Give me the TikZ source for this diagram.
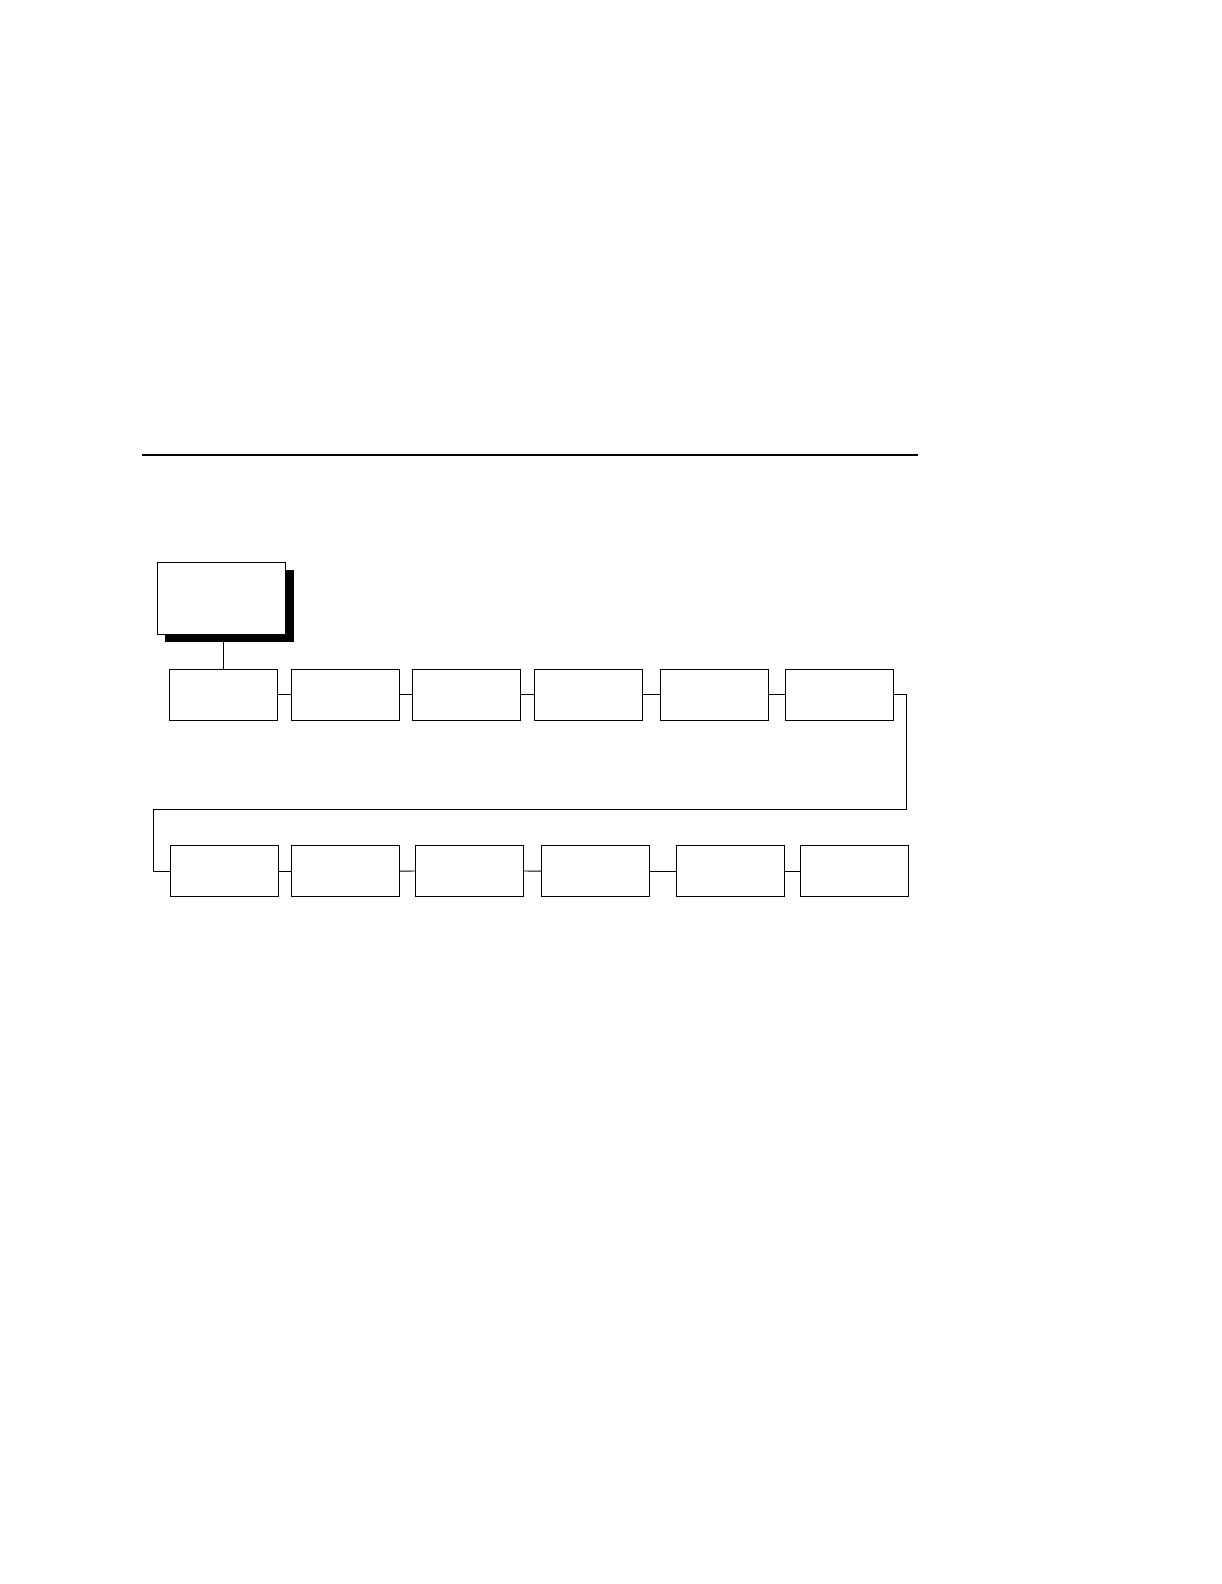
\documentclass[tikz,border=0pt]{standalone}
\usetikzlibrary{shadows}

\begin{document}
\begin{tikzpicture}[x = 0.05cm, y = -0.05cm,
    menubox/.style = {shape = rectangle, draw = black, line width = 1.3pt,
      minimum width = 5.4cm, minimum height = 2.55cm, inner sep = 0pt, outer sep = 0pt},
    headbox/.style = {menubox, minimum width = 6.42cm, minimum height = 3.6cm, fill = white,
      drop shadow = {shadow xshift = 0.4cm, shadow yshift = -0.4cm, fill = black, opacity = 1}},
    link/.style = {draw = black, line width = 1.3pt}
  ]
        \useasboundingbox (0, 0) rectangle (1222, 1584);

        % ------------------------------------------------------------------------
        % Rule
        \coordinate (ruleL) at (142, 455);
        \coordinate (ruleR) at (918, 455);
        \draw[line width = 3.3pt] (ruleL) -- (ruleR);

        % ------------------------------------------------------------------------
        % Head
        \node[headbox] at (221.5, 598.3) (head) {};

        % ------------------------------------------------------------------------
        % First row
        \node[menubox] at (223.3, 694.8) (r1a) {};
        \node[menubox] at (345.3, 694.8) (r1b) {};
        \node[menubox] at (466.3, 694.8) (r1c) {};
        \node[menubox] at (588.3, 694.8) (r1d) {};
        \node[menubox] at (714.3, 694.8) (r1e) {};
        \node[menubox] at (839.3, 694.8) (r1f) {};

        % ------------------------------------------------------------------------
        % Second row
        \node[menubox] at (224.3, 871.3) (r2a) {};
        \node[menubox] at (345.3, 871.3) (r2b) {};
        \node[menubox] at (469.3, 870.8) (r2c) {};
        \node[menubox] at (595.3, 871.3) (r2d) {};
        \node[menubox] at (730.3, 871.3) (r2e) {};
        \node[menubox] at (854.3, 871.3) (r2f) {};

        \coordinate (loopR) at (906.5, 809.3);
        \coordinate (loopL) at (153.3, 809.3);

        \draw[link]
          (r1a.north) -- (r1a.north |- head.south)
          (r1a) edge (r1b)
          (r1b) edge (r1c)
          (r1c) edge (r1d)
          (r1d) edge (r1e)
          (r1e) edge (r1f)
          (r2a) edge (r2b)
          (r2b) edge (r2c)
          (r2c) edge (r2d)
          (r2d) edge (r2e)
          (r2e) edge (r2f)
        ;
        \draw[link]
          (r1f.east) -| (loopR) -- (loopL) |- (r2a.west)
        ;
      \end{tikzpicture}
\end{document}
